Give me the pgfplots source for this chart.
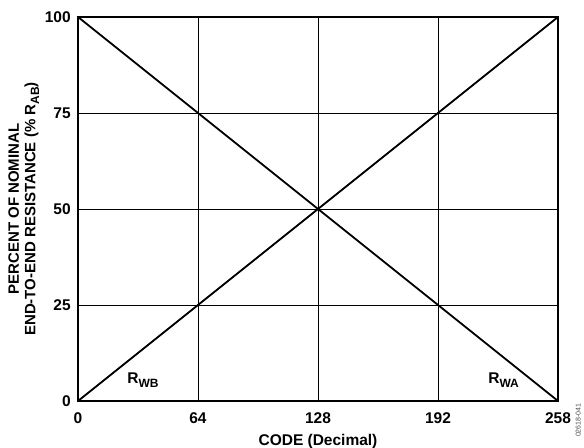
\documentclass[border=0pt]{standalone}
\usepackage{fontspec}
\setmainfont{Liberation Sans}
\usepackage{pgfplots}
\pgfplotsset{compat=1.18}
\newcommand{\sub}[1]{\raisebox{-0.45ex}{\fontsize{12bp}{13bp}\selectfont #1}}
\begin{document}
\fontsize{15.5bp}{17bp}\selectfont\bfseries
\begin{tikzpicture}[font=\fontsize{15.5bp}{17bp}\selectfont\bfseries]
\useasboundingbox (-78bp,-47bp) rectangle (506bp,401bp);
\begin{axis}[
  at={(0,0)}, anchor=south west,
  scale only axis, width=480bp, height=384bp,
  xmin=0, xmax=256, ymin=0, ymax=100,
  xtick={0,64,128,192,256}, xticklabels={0,64,128,192,258},
  ytick={0,25,50,75,100},
  grid=major, major grid style={black, line width=0.9bp},
  major tick length=0pt,
  axis line style={black, line width=1.8bp},
  /pgf/number format/assume math mode=true,
  every tick label/.append style={font=\fontsize{15.5bp}{17bp}\selectfont\bfseries},
  xticklabel style={yshift=-6bp},
  yticklabel style={xshift=-2bp},
  xlabel={CODE (Decimal)},
  xlabel style={font=\fontsize{15.5bp}{17bp}\selectfont\bfseries, at={(axis description cs:0.5,0)}, anchor=center, yshift=-40bp},
  ylabel={PERCENT OF NOMINAL\\END-TO-END RESISTANCE (\% R\sub{AB})},
  ylabel style={font=\fontsize{15bp}{16.5bp}\selectfont\bfseries, align=center, at={(axis description cs:-0.113,0.5)}, anchor=center},
  clip=false,
]
\addplot[black, line width=1.8bp] coordinates {(0,0) (256,100)};
\addplot[black, line width=1.8bp] coordinates {(0,100) (256,0)};
\node[font=\fontsize{15.5bp}{17bp}\selectfont\bfseries] at (axis cs:34.7,5.5) {R\sub{WB}};
\node[font=\fontsize{15.5bp}{17bp}\selectfont\bfseries] at (axis cs:227,5.5) {R\sub{WA}};
\node[font=\fontsize{7bp}{8bp}\selectfont\mdseries, rotate=90, text=black!70] at (axis description cs:1.042,-0.05) {02618-041};
\end{axis}
\end{tikzpicture}
\end{document}
